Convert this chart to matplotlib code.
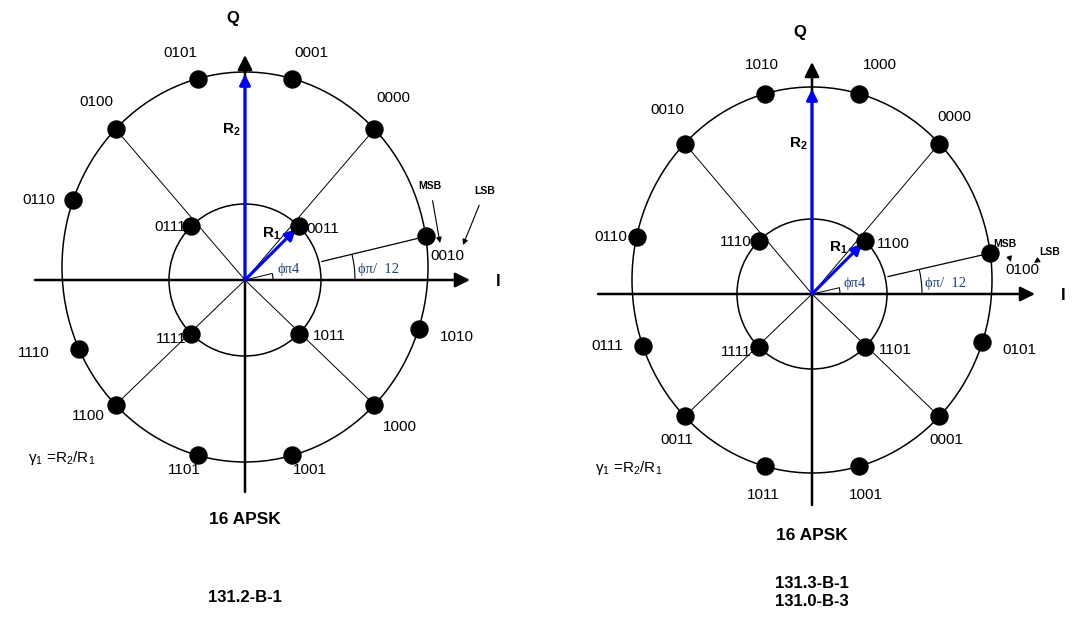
import numpy as np
import matplotlib.pyplot as plt
from matplotlib.patches import Circle, Ellipse, Arc

plt.rcParams['font.family'] = ['Liberation Sans', 'DejaVu Sans']
plt.rcParams['mathtext.fontset'] = 'custom'
plt.rcParams['mathtext.rm'] = 'Liberation Sans'
plt.rcParams['mathtext.it'] = 'Liberation Sans:italic'
plt.rcParams['mathtext.bf'] = 'Liberation Sans:bold'

# --- constellation data -------------------------------------------------------
inner_deg = [45, 135, 225, 315]

# 131.2-B-1 (left)
left_outer_bits = ['0010', '0000', '0001', '0101', '0100', '0110',
                   '1110', '1100', '1101', '1001', '1000', '1010']
left_outer_deg = [9, 45, 75, 105, 135, 160, 205, 225, 255, 285, 315, 341.5]
left_inner_bits = ['0011', '0111', '1111', '1011']

# 131.3-B-1 / 131.0-B-3 (right)
right_outer_bits = ['0100', '0000', '1000', '1010', '0010', '0110',
                    '0111', '0011', '1011', '1001', '0001', '0101']
right_outer_deg = [8, 45, 75, 105, 135, 167, 200, 225, 255, 285, 315, 341.3]
right_inner_bits = ['1100', '1110', '1111', '1101']

left_titles = ['16 APSK', '131.2-B-1']
right_titles = ['16 APSK', '131.3-B-1\n131.0-B-3']

# --- layout (pixels) ----------------------------------------------------------
left_outer_off = [(22, 20), (19, -31), (19, -26), (-17, -26), (-19, -27), (-34, 0),
                  (-45, 4), (-27, 11), (-13, 15), (18, 15), (25, 22), (38, 8)]
left_inner_off = [(24, 3), (-21, 1), (-20, 5), (31, 2)]
right_outer_off = [(32, 17), (15, -27), (21, -29), (-4, -29), (-17, -34), (-26, 0),
                   (-36, 0), (-8, 24), (-2, 29), (7, 29), (7, 24), (37, 8)]
right_inner_off = [(28, 3), (-23, 1), (-23, 5), (30, 3)]

fig = plt.figure(figsize=(10.88, 6.23), dpi=100)
ax = fig.add_axes([0, 0, 1, 1])
ax.set_xlim(0, 1088)
ax.set_ylim(623, 0)
ax.axis('off')

blue = '#0000FF'
angle_col = '#1F3F77'


def pol(cx, cy, rx, ry, deg):
    a = np.deg2rad(deg)
    return cx + rx * np.cos(a), cy - ry * np.sin(a)


def diagram(cx, cy, oy, rx, ry, r_in, outer_bits, outer_deg, outer_off,
            inner_bits, inner_off, ax_len, q_y, titles, title_y, msb):
    # outer ring sits a little above the axis crossing, inner ring on it
    ocy = cy - oy
    ax.add_patch(Ellipse((cx, ocy), 2 * rx, 2 * ry, fill=False, lw=1.1, color='black'))
    ax.add_patch(Circle((cx, cy), r_in, fill=False, lw=1.1, color='black'))
    outer_xy = [pol(cx, ocy, rx, ry, d) for d in outer_deg]
    # thin lines from the centre to the diagonal outer points
    for k in (1, 4, 7, 10):
        x, y = outer_xy[k]
        ax.plot([cx, x], [cy, y], color='black', lw=0.7)
    # axes
    l, r, t, b = ax_len
    ax.annotate('', xy=(cx + r, cy), xytext=(cx - l, cy),
                arrowprops=dict(arrowstyle='-|>', lw=1.8, color='black',
                                mutation_scale=22, shrinkA=0, shrinkB=0))
    ax.annotate('', xy=(cx, cy - t), xytext=(cx, cy + b),
                arrowprops=dict(arrowstyle='-|>', lw=1.8, color='black',
                                mutation_scale=22, shrinkA=0, shrinkB=0))
    ax.text(cx - 12, q_y, 'Q', fontsize=12, fontweight='bold', ha='center', va='center')
    ax.text(cx + r + 28, cy + 1, 'I', fontsize=12, fontweight='bold', ha='center', va='center')
    # angle construction towards the first outer point
    x0, y0 = outer_xy[0]
    ang = np.rad2deg(np.arctan2(cy - y0, x0 - cx))
    xs, ys = pol(cx, cy, r_in + 3, r_in + 3, ang)
    ax.plot([xs, x0], [ys, y0], color='black', lw=0.9)
    x1, y1 = pol(cx, cy, 28, 28, ang)
    ax.plot([cx, x1], [cy, y1], color='black', lw=0.7)
    ax.add_patch(Arc((cx, cy), 56, 56, theta1=-ang, theta2=0, lw=0.8, color='black'))
    ax.add_patch(Arc((cx, cy), 220, 220, theta1=-ang, theta2=0, lw=0.8, color='black'))
    ax.text(cx + 32, cy - 11, 'ϕπ4', fontsize=10.5, color=angle_col,
            family=['Liberation Serif', 'DejaVu Serif'], va='center')
    ax.text(cx + 113, cy - 11, 'ϕπ/  12', fontsize=10.5, color=angle_col,
            family=['Liberation Serif', 'DejaVu Serif'], va='center')
    # blue vectors
    ax.annotate('', xy=(cx, ocy - ry + 2), xytext=(cx, cy),
                arrowprops=dict(arrowstyle='-|>', lw=2.2, color=blue,
                                mutation_scale=16, shrinkA=0, shrinkB=0))
    x45, y45 = pol(cx, cy, r_in - 4, r_in - 4, 45)
    ax.annotate('', xy=(x45, y45), xytext=(cx, cy),
                arrowprops=dict(arrowstyle='-|>', lw=2.2, color=blue,
                                mutation_scale=16, shrinkA=0, shrinkB=0))
    ax.text(cx - 14, cy - 150, r'$\mathbf{R}_\mathbf{2}$', fontsize=11, ha='center', va='center')
    ax.text(cx + 26, cy - 46, r'$\mathbf{R}_\mathbf{1}$', fontsize=11, ha='center', va='center')
    # points and labels
    for bits, (x, y), (dx, dy) in zip(outer_bits, outer_xy, outer_off):
        ax.scatter([x], [y], s=150, color='black', zorder=5)
        ax.text(x + dx, y + dy, bits, fontsize=11, ha='center', va='center')
    for bits, d, (dx, dy) in zip(inner_bits, inner_deg, inner_off):
        x, y = pol(cx, cy, r_in, r_in, d)
        ax.scatter([x], [y], s=150, color='black', zorder=5)
        ax.text(x + dx, y + dy, bits, fontsize=11, ha='center', va='center')
    # MSB / LSB
    (mx, my), (mtx, mty), (lx, ly), (ltx, lty) = msb
    ax.annotate('MSB', xy=(mtx, mty), xytext=(mx, my), fontsize=7.5, fontweight='bold',
                ha='center', va='center',
                arrowprops=dict(arrowstyle='-|>', lw=0.8, color='black',
                                mutation_scale=8, shrinkA=5, shrinkB=0))
    ax.annotate('LSB', xy=(ltx, lty), xytext=(lx, ly), fontsize=7.5, fontweight='bold',
                ha='center', va='center',
                arrowprops=dict(arrowstyle='-|>', lw=0.8, color='black',
                                mutation_scale=8, shrinkA=5, shrinkB=0))
    # titles
    ax.text(cx, title_y[0], titles[0], fontsize=12.5, fontweight='bold', ha='center', va='center')
    ax.text(cx, title_y[1], titles[1], fontsize=12, fontweight='bold', ha='center', va='center',
            linespacing=1.25)


diagram(245, 280, 13, 183, 195, 76, left_outer_bits, left_outer_deg, left_outer_off,
        left_inner_bits, left_inner_off, (210, 225, 225, 212), 18,
        left_titles, (520, 598),
        ((430, 186), (440, 243), (485, 191), (463, 245)))
ax.text(62, 458, 'γ$_1$ =R$_2$/R$_1$', fontsize=11, ha='center', va='center')

diagram(812, 294, 14, 180, 193, 75, right_outer_bits, right_outer_deg, right_outer_off,
        right_inner_bits, right_inner_off, (214, 223, 232, 211), 32,
        right_titles, (535, 593),
        ((1005, 244), (1011, 262), (1050, 252), (1034, 263)))
ax.text(629, 468, 'γ$_1$ =R$_2$/R$_1$', fontsize=11, ha='center', va='center')

plt.savefig('out.png', dpi=100)
